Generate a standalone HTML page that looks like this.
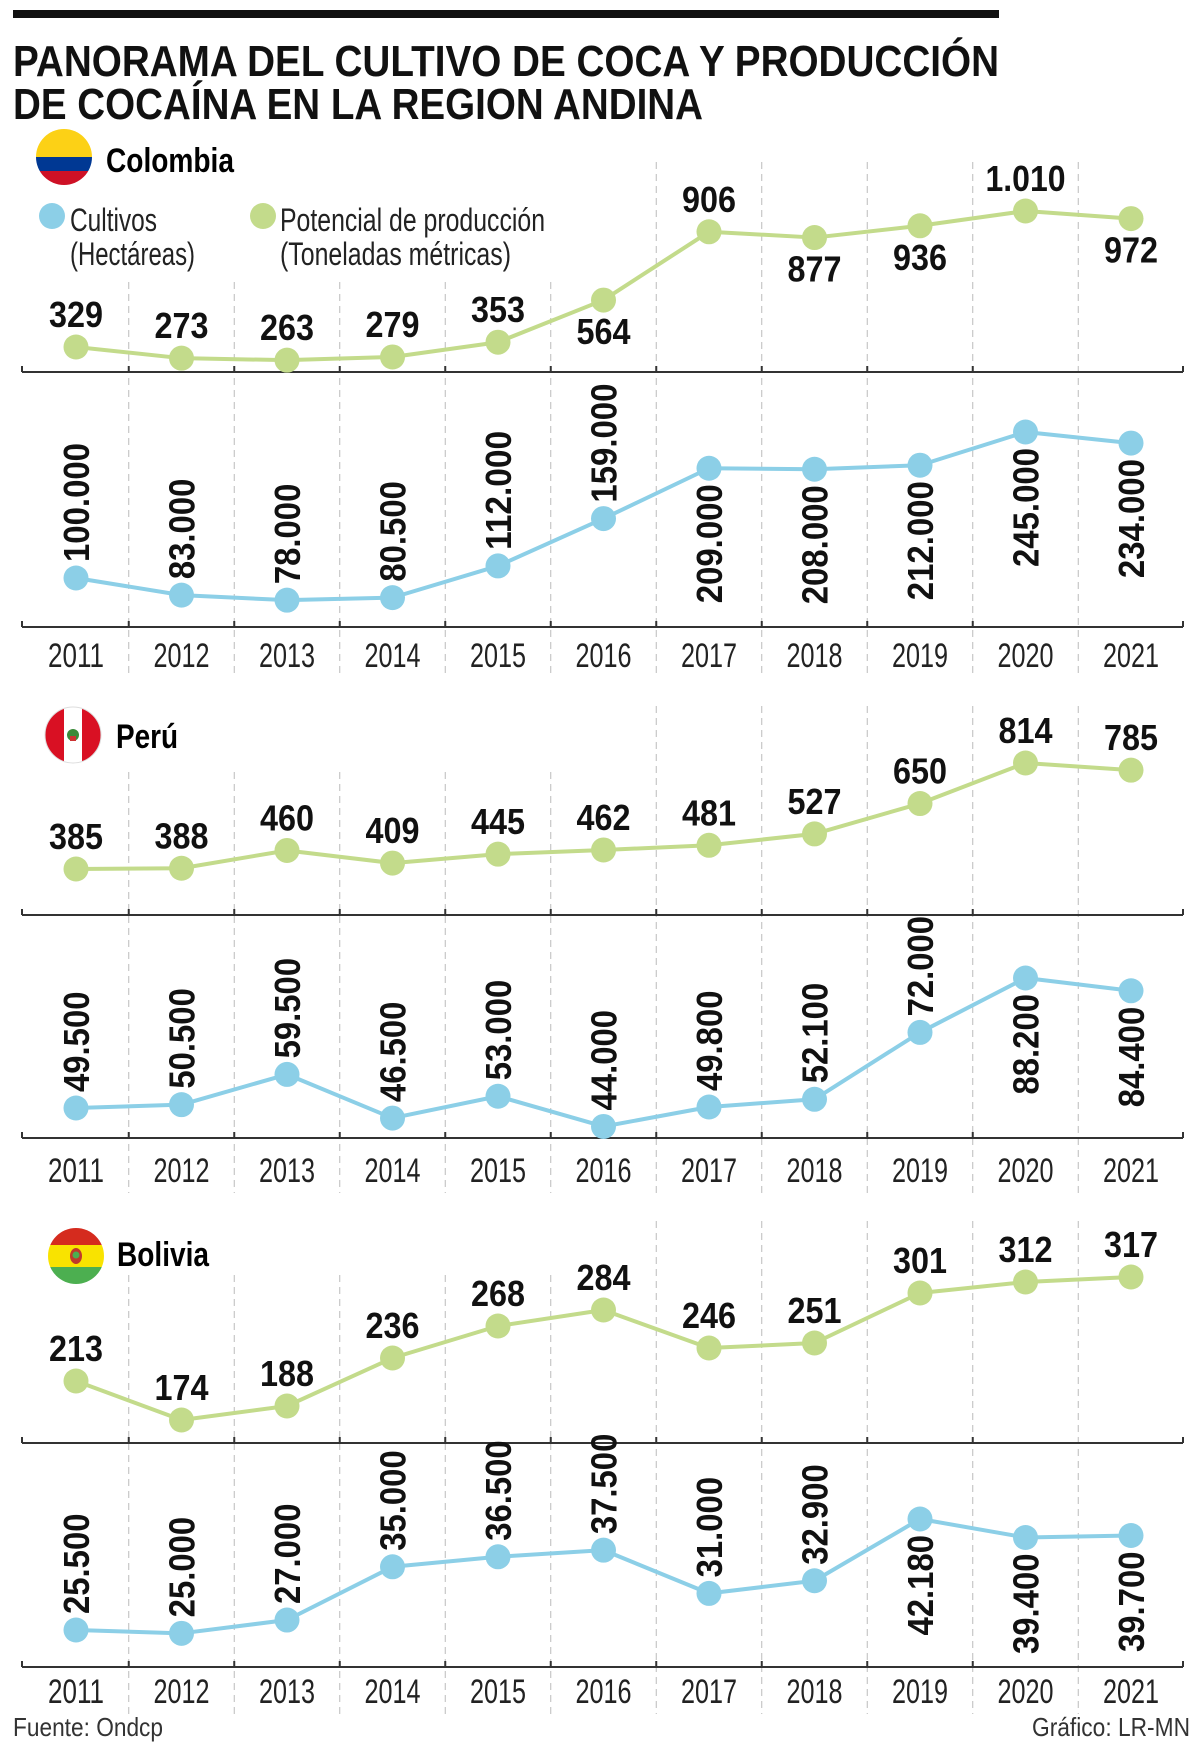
<!DOCTYPE html>
<html><head><meta charset="utf-8"><style>
html,body{margin:0;padding:0;background:#fff;}
svg{display:block;}
.t{font-family:"Liberation Sans Narrow","Liberation Sans",sans-serif;}
</style></head><body>
<svg id="chart" width="1200" height="1754" viewBox="0 0 1200 1754" xmlns="http://www.w3.org/2000/svg">
<rect x="13" y="10" width="986" height="8" fill="#111"/>
<text class="t" x="13" y="76" font-size="44" font-weight="bold" textLength="986" lengthAdjust="spacingAndGlyphs" fill="#111">PANORAMA DEL CULTIVO DE COCA Y PRODUCCIÓN</text>
<text class="t" x="13" y="119" font-size="44" font-weight="bold" textLength="690" lengthAdjust="spacingAndGlyphs" fill="#111">DE COCAÍNA EN LA REGION ANDINA</text>

<g>
<clipPath id="cc"><circle cx="64" cy="157" r="28"/></clipPath>
<g clip-path="url(#cc)"><rect x="30" y="125" width="70" height="32" fill="#fcd116"/><rect x="30" y="157" width="70" height="14" fill="#003893"/><rect x="30" y="171" width="70" height="20" fill="#ce1126"/></g>
</g>
<text class="t" x="106" y="172" font-size="34" font-weight="bold" textLength="128" lengthAdjust="spacingAndGlyphs">Colombia</text>
<circle cx="52" cy="216" r="13" fill="#8ccfe7"/>
<text class="t" x="70" y="231" font-size="32" textLength="87" lengthAdjust="spacingAndGlyphs" fill="#222">Cultivos</text>
<text class="t" x="70" y="265" font-size="32" textLength="125" lengthAdjust="spacingAndGlyphs" fill="#222">(Hectáreas)</text>
<circle cx="263" cy="216" r="13" fill="#c3db8b"/>
<text class="t" x="280" y="231" font-size="32" textLength="265" lengthAdjust="spacingAndGlyphs" fill="#222">Potencial de producción</text>
<text class="t" x="280" y="265" font-size="32" textLength="231" lengthAdjust="spacingAndGlyphs" fill="#222">(Toneladas métricas)</text>

<g>
<clipPath id="pc"><circle cx="73" cy="735" r="28"/></clipPath>
<g clip-path="url(#pc)"><rect x="40" y="700" width="70" height="70" fill="#fff"/><rect x="40" y="700" width="24" height="70" fill="#d91023"/><rect x="82" y="700" width="24" height="70" fill="#d91023"/><circle cx="73" cy="735" r="6" fill="#3a8a3a"/><rect x="70" y="736" width="6" height="5" fill="#c33"/></g>
<circle cx="73" cy="735" r="28" fill="none" stroke="#ddd" stroke-width="1"/>
</g>
<text class="t" x="116" y="748" font-size="34" font-weight="bold" textLength="62" lengthAdjust="spacingAndGlyphs">Perú</text>

<g>
<clipPath id="bc"><circle cx="76" cy="1256" r="28"/></clipPath>
<g clip-path="url(#bc)"><rect x="40" y="1225" width="72" height="20" fill="#d52b1e"/><rect x="40" y="1245" width="72" height="22" fill="#f9e300"/><rect x="40" y="1267" width="72" height="20" fill="#4caf50"/><ellipse cx="76" cy="1256" rx="6" ry="8" fill="#c0392b"/><circle cx="76" cy="1255" r="3.5" fill="#4caf50"/></g>
</g>
<text class="t" x="117" y="1266" font-size="34" font-weight="bold" textLength="92" lengthAdjust="spacingAndGlyphs">Bolivia</text>

<text class="t" x="13" y="1736" font-size="26" textLength="150" lengthAdjust="spacingAndGlyphs" fill="#333">Fuente: Ondcp</text>
<text class="t" x="1190" y="1736" font-size="26" text-anchor="end" textLength="158" lengthAdjust="spacingAndGlyphs" fill="#333">Gráfico: LR-MN</text>
<g id="plots"></g>
</svg>
<script>
const years = ["2011","2012","2013","2014","2015","2016","2017","2018","2019","2020","2021"];
const colProd = [329,273,263,279,353,564,906,877,936,1010,972];
const colProdLabels = ["329","273","263","279","353","564","906","877","936","1.010","972"];
const colCult = [100000,83000,78000,80500,112000,159000,209000,208000,212000,245000,234000];
const colCultLabels = ["100.000","83.000","78.000","80.500","112.000","159.000","209.000","208.000","212.000","245.000","234.000"];
const perProd = [385,388,460,409,445,462,481,527,650,814,785];
const perProdLabels = ["385","388","460","409","445","462","481","527","650","814","785"];
const perCult = [49500,50500,59500,46500,53000,44000,49800,52100,72000,88200,84400];
const perCultLabels = ["49.500","50.500","59.500","46.500","53.000","44.000","49.800","52.100","72.000","88.200","84.400"];
const bolProd = [213,174,188,236,268,284,246,251,301,312,317];
const bolProdLabels = ["213","174","188","236","268","284","246","251","301","312","317"];
const bolCult = [25500,25000,27000,35000,36500,37500,31000,32900,42180,39400,39700];
const bolCultLabels = ["25.500","25.000","27.000","35.000","36.500","37.500","31.000","32.900","42.180","39.400","39.700"];

const NS="http://www.w3.org/2000/svg";
const root=document.getElementById('plots');
function mk(tag,attrs,parent){const e=document.createElementNS(NS,tag);for(const k in attrs)e.setAttribute(k,attrs[k]);(parent||root).appendChild(e);return e;}
const x0=76, dx=105.5;
const axL=22, axR=1183;
function xAt(i){return x0+i*dx;}
function lin(d0,d1,r0,r1){return v=>r0+(v-d0)*(r1-r0)/(d1-d0);}
function txtLen(s,d){let n=0;for(const c of s)n+=(c==='.'?8:d);return n;}

function grid(top,topLeft,bottom,name){
  const g=mk('g',{});
  
  
  for(let i=0;i<10;i++){
    const x=(xAt(i)+xAt(i+1))/2;
    const yt=(x<560)?topLeft:top;
    const l=mk('line',{x1:x,x2:x,y1:yt,y2:bottom,stroke:'#bbb','stroke-width':1,'stroke-dasharray':'7 5'},g);
    
    
  }
}
function axis(y,name){
  const g=mk('g',{});
  
  
  mk('line',{x1:axL,x2:axR,y1:y,y2:y,stroke:'#333','stroke-width':2},g);
  for(let i=0;i<=10;i++){
    const x=i===0?axL:(i===10?axR:(xAt(i-1)+xAt(i))/2);
    mk('line',{x1:x,x2:x,y1:y-6,y2:y,stroke:'#333','stroke-width':2},g);
  }
}
function yearRow(y,name){
  const g=mk('g',{});
  
  
  years.forEach((yr,i)=>{
    const t=mk('text',{x:xAt(i),y:y,'text-anchor':'middle','font-size':34,'class':'t',fill:'#222',textLength:56,lengthAdjust:'spacingAndGlyphs'},g);
    t.textContent=yr;
    
    
  });
}
function series(vals,labels,sc,color,name,rotated,below){
  const g=mk('g',{});
  
  
  const pts=vals.map((v,i)=>[xAt(i),sc(v)]);
  const pl=mk('polyline',{points:pts.map(p=>p.join(',')).join(' '),fill:'none',stroke:color,'stroke-width':4,'stroke-linejoin':'round'},g);
  
  
  pts.forEach((p,i)=>{
    const c=mk('circle',{cx:p[0],cy:p[1],r:12.5,fill:color},g);
    
    
    const lab=labels[i];
    let t;
    if(rotated){
      const b=below[i];
      const yy=b?p[1]+16:p[1]-16;
      t=mk('text',{x:p[0]+13,y:yy,transform:`rotate(-90 ${p[0]+13} ${yy})`,'text-anchor':b?'end':'start','font-size':36,'font-weight':'bold','class':'t',fill:'#111',textLength:txtLen(lab,18.5),lengthAdjust:'spacingAndGlyphs'},g);
    }else{
      const b=below[i];
      const yy=b?p[1]+44:p[1]-20;
      t=mk('text',{x:p[0],y:yy,'text-anchor':'middle','font-size':36,'font-weight':'bold','class':'t',fill:'#111',textLength:txtLen(lab,18),lengthAdjust:'spacingAndGlyphs'},g);
    }
    t.textContent=lab;
    
    
  });
}
const GREEN='#c3db8b', BLUE='#8ccfe7';
// Colombia
grid(162,282,678,'colombia-grid');
axis(372,'colombia-production-axis');
axis(627,'colombia-cultivos-axis');
yearRow(667,'colombia-years');
series(colProd,colProdLabels,lin(329,1010,347,211),GREEN,'colombia-production',false,[0,0,0,0,0,1,0,1,1,0,1]);
series(colCult,colCultLabels,lin(100000,245000,578,432),BLUE,'colombia-cultivos',true,[0,0,0,0,0,0,1,1,1,1,1]);
// Peru
grid(706,772,1193,'peru-grid');
axis(915,'peru-production-axis');
axis(1138,'peru-cultivos-axis');
yearRow(1182,'peru-years');
series(perProd,perProdLabels,lin(385,814,869,763),GREEN,'peru-production',false,[0,0,0,0,0,0,0,0,0,0,0]);
series(perCult,perCultLabels,lin(49500,88200,1108,978),BLUE,'peru-cultivos',true,[0,0,0,0,0,0,0,0,0,1,1]);
// Bolivia
grid(1221,1275,1714,'bolivia-grid');
axis(1443,'bolivia-production-axis');
axis(1667,'bolivia-cultivos-axis');
yearRow(1703,'bolivia-years');
series(bolProd,bolProdLabels,lin(213,317,1381,1277),GREEN,'bolivia-production',false,[0,0,0,0,0,0,0,0,0,0,0]);
series(bolCult,bolCultLabels,lin(25500,42180,1630,1519),BLUE,'bolivia-cultivos',true,[0,0,0,0,0,0,0,0,1,1,1]);
</script>
</body></html>
